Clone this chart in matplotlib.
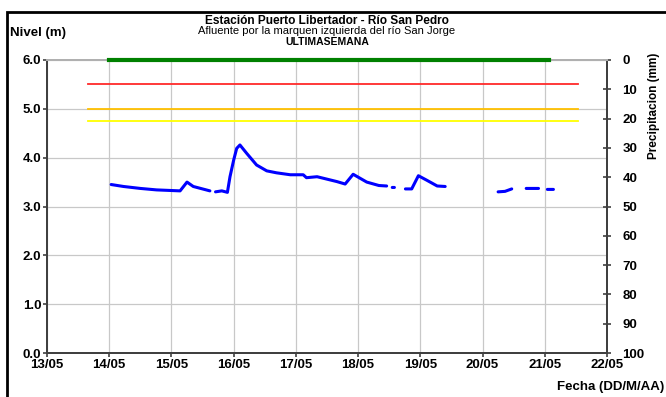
import matplotlib
matplotlib.use("Agg")
import matplotlib.pyplot as plt
import matplotlib.dates as mdates
import numpy as np
import pandas as pd
from matplotlib.patches import Rectangle
from matplotlib.ticker import FormatStrFormatter

plt.rcParams["font.family"] = ["Liberation Sans", "DejaVu Sans"]

# water level readings (NaN = no data)
level_times = [
    "2024-05-14 00:45", "2024-05-14 05:30", "2024-05-14 12:00", "2024-05-14 18:15",
    "2024-05-15 03:20", "2024-05-15 06:00", "2024-05-15 08:25", "2024-05-15 14:50",
    "2024-05-15 16:00",
    "2024-05-15 17:00", "2024-05-15 19:25", "2024-05-15 21:35", "2024-05-15 22:35",
    "2024-05-16 00:00", "2024-05-16 01:10", "2024-05-16 02:25", "2024-05-16 05:00",
    "2024-05-16 08:50", "2024-05-16 12:45", "2024-05-16 16:30", "2024-05-16 21:50",
    "2024-05-17 02:50", "2024-05-17 04:05", "2024-05-17 08:10", "2024-05-17 15:50",
    "2024-05-17 19:00", "2024-05-17 22:05", "2024-05-18 03:20", "2024-05-18 08:00",
    "2024-05-18 11:00",
    "2024-05-18 12:30",
    "2024-05-18 13:10", "2024-05-18 14:00",
    "2024-05-18 15:30",
    "2024-05-18 18:15", "2024-05-18 20:40", "2024-05-18 23:15", "2024-05-19 02:25",
    "2024-05-19 06:30", "2024-05-19 09:35",
    "2024-05-19 12:00",
    "2024-05-20 06:00", "2024-05-20 08:40", "2024-05-20 11:15",
    "2024-05-20 13:00",
    "2024-05-20 16:50", "2024-05-20 21:35",
    "2024-05-20 23:30",
    "2024-05-21 01:00", "2024-05-21 03:20",
]
level_values = [
    3.45, 3.41, 3.37, 3.34,
    3.32, 3.50, 3.41, 3.32,
    np.nan,
    3.30, 3.32, 3.29, 3.61,
    3.95, 4.19, 4.26, 4.09,
    3.85, 3.73, 3.69, 3.65,
    3.65, 3.59, 3.61, 3.51,
    3.46, 3.66, 3.50, 3.43,
    3.42,
    np.nan,
    3.39, 3.39,
    np.nan,
    3.36, 3.36, 3.63, 3.54,
    3.42, 3.41,
    np.nan,
    3.30, 3.31, 3.36,
    np.nan,
    3.37, 3.37,
    np.nan,
    3.35, 3.35,
]

# alert thresholds (m)
threshold_levels = [5.5, 5.0, 4.75]
threshold_colors = ["#ff2a2a", "#ffc000", "#ffff00"]
threshold_span = ["2024-05-13 16:00", "2024-05-21 13:00"]

# precipitation (mm)
precip_times = ["2024-05-14 00:00", "2024-05-21 01:30"]
precip_values = [0, 0]

day_ticks = pd.date_range("2024-05-13", "2024-05-22", freq="D")

fig = plt.figure(figsize=(6.66, 3.97), dpi=100)
ax = fig.add_axes([47 / 666, 44 / 397, 560 / 666, 293 / 397])
ax2 = ax.twinx()

t_level = pd.to_datetime(level_times)
t_span = pd.to_datetime(threshold_span)
for lev, col in zip(threshold_levels, threshold_colors):
    ax.plot(t_span, [lev, lev], color=col, lw=1.3, zorder=3)
ax.plot(t_level, level_values, color="#0000ff", lw=2.2, solid_capstyle="round", zorder=4)

ax.set_xlim(day_ticks[0], day_ticks[-1])
ax.set_ylim(0, 6)
ax.set_yticks(np.arange(0, 6.01, 1.0))
ax.yaxis.set_major_formatter(FormatStrFormatter("%.1f"))
ax.set_xticks(day_ticks)
ax.xaxis.set_major_formatter(mdates.DateFormatter("%d/%m"))
ax.grid(True, color="#c8c8c8", lw=0.9)
ax.set_axisbelow(True)
ax.tick_params(axis="both", labelsize=9.5, length=3, color="#404040", width=1.2, pad=1)
for lbl in ax.get_xticklabels() + ax.get_yticklabels():
    lbl.set_fontweight("bold")

ax2.plot(pd.to_datetime(precip_times), precip_values, color="#008000", lw=3, zorder=5, clip_on=False)
ax2.set_ylim(100, 0)
ax2.set_yticks(np.arange(0, 101, 10))
ax2.tick_params(axis="y", labelsize=9.5, direction="inout", length=6, color="#404040", width=1.2, pad=8)
for lbl in ax2.get_yticklabels():
    lbl.set_fontweight("bold")

for a in (ax, ax2):
    for side in ("left", "bottom", "right"):
        a.spines[side].set_color("#404040")
        a.spines[side].set_linewidth(1.4)
    a.spines["top"].set_color("#b0b0b0")
    a.spines["top"].set_linewidth(1.4)

fig.text(327 / 666, 1 - 23.5 / 397, "Estación Puerto Libertador - Río San Pedro",
         ha="center", va="baseline", fontsize=8.6, fontweight="bold")
fig.text(327 / 666, 1 - 34 / 397, "Afluente por la marquen izquierda del río San Jorge",
         ha="center", va="baseline", fontsize=8)
fig.text(327 / 666, 1 - 45 / 397, "ULTIMASEMANA",
         ha="center", va="baseline", fontsize=7.5, fontweight="bold")
fig.text(10 / 666, 1 - 36 / 397, "Nivel (m)", ha="left", va="baseline", fontsize=9.5, fontweight="bold")
fig.text(654 / 666, 1 - 106 / 397, "Precipitacion (mm)", ha="center", va="center",
         rotation=90, fontsize=8.5, fontweight="bold")
fig.text(664 / 666, 1 - 387 / 397, "Fecha (DD/M/AA)", ha="right", va="center",
         fontsize=9.5, fontweight="bold")

fig.patches.append(Rectangle((7 / 666, -0.05), 1.0, 0.05 + 1 - 12 / 397,
                             transform=fig.transFigure, fill=False, ec="black", lw=2))

fig.savefig("out.png", dpi=100)
